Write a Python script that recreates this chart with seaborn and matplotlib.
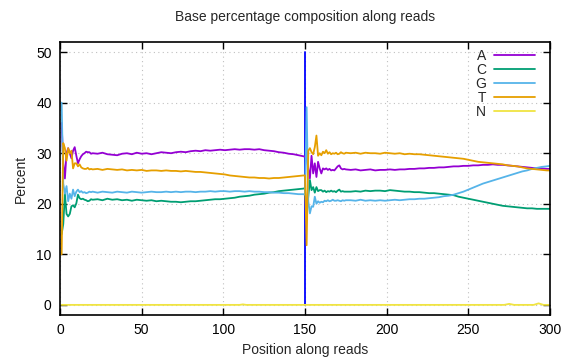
import pandas as pd
import matplotlib
matplotlib.use('Agg')
import matplotlib.pyplot as plt
import seaborn as sns

# gnuplot-like look
sns.set_style("ticks")
plt.rcParams['font.family'] = ['Liberation Sans', 'DejaVu Sans']

BASE_COLORS = {
    'A': '#9400d3',
    'C': '#009e73',
    'G': '#56b4e9',
    'T': '#e69f00',
    'N': '#f0e442',
}
BOUNDARY_COLOR = '#0000ff'
GRID_COLOR = '#c0c0c0'

# positions along reads (read 1: 1-150, read 2: 151-300)
positions = (list(range(1, 21)) + list(range(23, 150, 3)) + [150]
             + list(range(151, 176)) + list(range(178, 299, 3)) + [300])

pct_a = [
    36.0, 28.0, 25.0, 30.0, 31.0, 30.0, 29.0, 30.5, 31.2, 29.5,
    28.0, 28.8, 29.4, 29.8, 30.0, 30.3, 30.2, 30.2, 29.9, 30.0,
    29.9, 30.1, 29.8, 29.7, 29.6, 29.9, 30.0, 29.8, 30.1, 29.9,
    30.0, 29.8, 30.0, 30.2, 30.1, 30.0, 30.2, 30.3, 30.2, 30.4,
    30.5, 30.4, 30.6, 30.5, 30.6, 30.7, 30.6, 30.7, 30.8, 30.7,
    30.8, 30.8, 30.7, 30.8, 30.6, 30.5, 30.4, 30.2, 30.1, 29.9,
    29.8, 29.6, 29.4, 29.3,
    29.6, 27.0, 25.0, 29.5, 26.0, 28.0, 25.3, 28.3, 27.0, 26.0,
    27.0, 26.8, 27.0, 26.7, 26.9, 26.6, 26.7, 26.6, 27.0, 27.4,
    27.6, 27.0, 26.8, 26.9, 26.8,
    26.7, 26.8, 26.6, 26.7, 26.8, 26.6, 26.7, 26.7, 26.8, 26.7,
    26.8, 26.8, 26.9, 26.9, 27.0, 27.0, 27.1, 27.1, 27.2, 27.2,
    27.3, 27.4, 27.4, 27.5, 27.5, 27.6, 27.6, 27.7, 27.7, 27.8,
    27.7, 27.7, 27.6, 27.5, 27.4, 27.3, 27.2, 27.1, 27.0, 27.0,
    26.9, 26.9,
]
pct_c = [
    14.0, 16.0, 22.0, 18.0, 17.5, 18.0, 19.5, 19.7, 19.3, 20.1,
    21.8, 21.1, 20.9, 21.0, 20.8, 20.7, 20.5, 20.6, 20.9, 20.8,
    20.9, 20.7, 21.0, 20.8, 20.9, 20.7, 20.8, 20.6, 20.8, 20.7,
    20.6, 20.7, 20.5, 20.6, 20.5, 20.4, 20.4, 20.3, 20.4, 20.5,
    20.5, 20.6, 20.7, 20.8, 20.9, 20.9, 21.0, 21.1, 21.2, 21.4,
    21.5, 21.6, 21.8, 21.9, 22.0, 22.2, 22.3, 22.5, 22.6, 22.7,
    22.8, 22.9, 23.0, 23.1,
    18.1, 21.4, 24.7, 22.7, 23.3, 22.2, 23.3, 22.5, 22.7, 22.7,
    22.4, 22.6, 22.3, 22.5, 22.4, 22.6, 22.4, 22.5, 22.3, 22.6,
    22.8, 22.4, 22.5, 22.4, 22.4,
    22.4, 22.5, 22.4, 22.6, 22.5, 22.6, 22.6, 22.5, 22.7, 22.6,
    22.5, 22.4, 22.4, 22.3, 22.3, 22.2, 22.1, 22.1, 22.0, 21.9,
    21.8, 21.7, 21.4, 21.2, 21.0, 20.8, 20.6, 20.4, 20.2, 20.0,
    19.8, 19.6, 19.5, 19.4, 19.3, 19.2, 19.1, 19.1, 19.0, 19.0,
    19.0, 19.0,
]
pct_g = [
    40.0, 24.0, 22.0, 23.5, 20.5, 22.0, 21.0, 22.8, 21.5, 22.4,
    22.8, 22.3, 22.5, 22.2, 22.3, 22.1, 22.2, 22.4, 22.3, 22.4,
    22.2, 22.4, 22.3, 22.2, 22.4, 22.3, 22.2, 22.4, 22.3, 22.2,
    22.3, 22.4, 22.3, 22.3, 22.4, 22.3, 22.4, 22.3, 22.4, 22.4,
    22.3, 22.4, 22.4, 22.5, 22.4, 22.5, 22.5, 22.4, 22.5, 22.5,
    22.4, 22.5, 22.4, 22.4, 22.3, 22.3, 22.2, 22.2, 22.1, 22.1,
    22.0, 21.9, 21.9, 21.8,
    39.1, 20.5, 18.1, 19.5, 19.4, 21.4, 20.0, 20.5, 20.2, 20.4,
    20.3, 20.6, 20.5, 20.7, 20.5, 20.6, 20.8, 20.6, 20.6, 20.7,
    20.6, 20.5, 20.7, 20.6, 20.7,
    20.7, 20.6, 20.8, 20.6, 20.7, 20.6, 20.7, 20.6, 20.7, 20.8,
    20.7, 20.8, 20.9, 20.9, 21.0, 21.0, 21.1, 21.2, 21.3, 21.5,
    21.6, 21.8, 22.1, 22.4, 22.8, 23.2, 23.6, 24.0, 24.3, 24.6,
    24.9, 25.2, 25.5, 25.8, 26.1, 26.4, 26.6, 26.9, 27.1, 27.3,
    27.4, 27.5,
]
pct_t = [
    10.0, 32.0, 31.0, 28.5, 31.0, 30.0, 30.5, 27.0, 28.0, 28.0,
    27.4, 27.8, 27.2, 27.0, 26.9, 26.9, 27.1, 26.8, 26.9, 26.8,
    26.9, 26.7, 26.9, 26.8, 26.7, 26.8, 26.6, 26.7, 26.6, 26.7,
    26.5, 26.6, 26.6, 26.5, 26.6, 26.5, 26.5, 26.4, 26.5, 26.4,
    26.3, 26.3, 26.2, 26.1, 26.0, 25.9, 25.8, 25.6, 25.5, 25.4,
    25.3, 25.2, 25.2, 25.1, 25.1, 25.0, 25.1, 25.1, 25.2, 25.3,
    25.4, 25.5, 25.6, 25.6,
    11.8, 30.5, 31.0, 30.2, 29.8, 31.2, 33.5, 29.5, 30.0, 29.6,
    30.3, 30.0, 30.6, 29.9, 30.2, 29.8, 30.0, 29.9, 30.1, 29.8,
    29.9, 30.2, 30.0, 29.9, 30.1,
    30.0, 30.1, 29.9, 30.1, 30.0, 30.0, 29.9, 30.1, 30.0, 29.9,
    30.0, 29.8, 29.9, 29.8, 29.8, 29.7, 29.6, 29.5, 29.4, 29.3,
    29.2, 29.1, 29.0, 28.9, 28.7, 28.5, 28.3, 28.2, 28.1, 28.0,
    27.9, 27.8, 27.6, 27.5, 27.4, 27.2, 27.0, 26.9, 26.8, 26.7,
    26.6, 26.6,
]

# N stays at zero apart from a few tiny bumps
n_positions = [1, 110, 112, 114, 150, 151, 272, 275, 278, 290, 293, 296, 300]
pct_n = [0.0, 0.0, 0.1, 0.0, 0.0, 0.0, 0.0, 0.2, 0.0, 0.0, 0.3, 0.0, 0.0]

read_boundary = 150
boundary_span = [0, 50]

# long table for seaborn
frames = []
for base, vals in [('A', pct_a), ('C', pct_c), ('G', pct_g), ('T', pct_t)]:
    frames.append(pd.DataFrame({'pos': positions, 'pct': vals, 'base': base}))
frames.append(pd.DataFrame({'pos': n_positions, 'pct': pct_n, 'base': 'N'}))
df = pd.concat(frames, ignore_index=True)

fig = plt.figure(figsize=(5.76, 3.6), dpi=100)
ax = fig.add_axes([60 / 576, 1 - 315 / 360, 490 / 576, 273 / 360])

ax.grid(True, color=GRID_COLOR, linestyle=(0, (1, 3)), linewidth=0.8)
ax.set_axisbelow(True)

ax.plot([read_boundary, read_boundary], boundary_span, color=BOUNDARY_COLOR,
        linewidth=1.3, zorder=1.5)

sns.lineplot(data=df, x='pos', y='pct', hue='base', palette=BASE_COLORS,
             hue_order=['A', 'C', 'G', 'T', 'N'], sort=False, estimator=None,
             linewidth=1.3, ax=ax, zorder=2)

ax.set_xlim(0, 300)
ax.set_ylim(-2, 52)
ax.set_xticks(range(0, 301, 50))
ax.set_yticks(range(0, 51, 10))

ax.tick_params(direction='in', length=5, width=1, top=True, right=True,
               labelsize=10, pad=6, colors='black')
for sp in ax.spines.values():
    sp.set_color('black')
    sp.set_linewidth(1.2)

ax.set_title("Base percentage composition along reads", fontsize=10, pad=15)
ax.set_xlabel("Position along reads", fontsize=10, labelpad=4)
ax.set_ylabel("Percent", fontsize=10, labelpad=6)

leg = ax.legend(loc='upper right', bbox_to_anchor=(0.98, 0.995),
                markerfirst=False, frameon=False, fontsize=10,
                handlelength=2.9, handletextpad=0.6, labelspacing=0.0,
                borderaxespad=0.0)
for t in leg.get_texts():
    t.set_ha('right')

fig.savefig('out.png', dpi=100)
plt.close(fig)
